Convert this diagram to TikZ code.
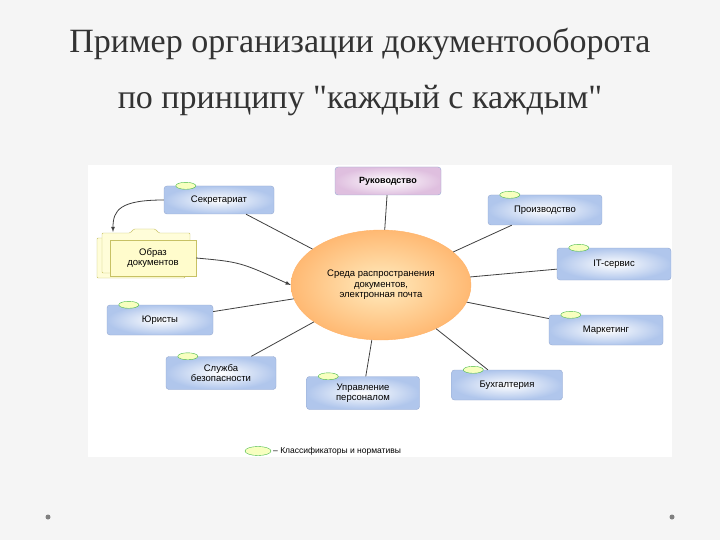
\documentclass[tikz,border=0pt]{standalone}
\usepackage{fontspec}
\setmainfont{Liberation Serif}[Ligatures=TeXOff]
\setsansfont{Liberation Sans}
\usetikzlibrary{shapes.geometric,calc}
\definecolor{bx}{RGB}{176,198,236}
\definecolor{bxd}{RGB}{150,170,210}
\begin{document}
\begin{tikzpicture}[x=1pt,y=-1pt,
 box/.style={draw=bxd,rounded corners=3pt,inner color=white,outer color=bx,minimum width=108pt,minimum height=29pt,align=center,font=\sffamily\fontsize{9.5}{10.5}\selectfont},
 tab/.style={draw=green!45!gray,fill=green!12!yellow!25,ellipse,minimum width=20pt,minimum height=7pt,inner sep=0pt},
 ln/.style={draw=black!75,line width=0.8pt}]
\useasboundingbox (0,0) rectangle (720,540);
\fill[gray!8] (0,0) rectangle (720,540);
\fill[white] (88,165) rectangle (672,457);
\node[font=\fontsize{34}{36}\selectfont,text=black!80] (t1) at (360,44) {Пример организации документооборота};
\node[font=\fontsize{34}{36}\selectfont,text=black!80] (t2) at (360,101) {по принципу "каждый с каждым"};
\node[ellipse,draw=orange!60,inner color=yellow!40!orange!25,outer color=orange!55,minimum width=180pt,minimum height=110pt,align=center,font=\sffamily\fontsize{9.5}{10.5}\selectfont] (c) at (381,285) {Среда распространения\\документов,\\электронная почта};
\node[box,outer color=violet!25,minimum width=106pt,minimum height=28pt,font=\sffamily\bfseries\fontsize{9}{10}\selectfont] (r) at (388,181) {Руководство};
\foreach \n/\x/\y/\w/\h/\t in {s/219/200/110/28/Секретариат, p/545/210/114/30/Производство, it/614/264/114/32/IT-сервис, m/606/330/114/30/Маркетинг, b/507/385/111/30/Бухгалтерия, u/363/393/113/33/{Управление\\персоналом}, sb/221/373/110/33/{Служба\\безопасности}, j/160/320/106/30/Юристы}
 {\node[box,minimum width=\w pt,minimum height=\h pt] (\n) at (\x,\y) {\t};
  \node[tab] at ($(\n.north west)+(22,0)$) {};}
% folder
\foreach \d in {0,5}
 \draw[draw=yellow!50!gray,fill=yellow!15,rounded corners=1pt] (97+\d,278-\d) -- (97+\d,238-\d) -- (125+\d,238-\d) -- (129+\d,234-\d) -- (150+\d,234-\d) -- (154+\d,238-\d) -- (185+\d,238-\d) -- (185+\d,278-\d) -- cycle;
\node[draw=yellow!50!gray,fill=yellow!20,minimum width=86pt,minimum height=36pt,align=center,font=\sffamily\fontsize{9.5}{10.5}\selectfont] (f) at (153,258) {Образ\\документов};
\foreach \n in {s,p,it,m,b,u,sb,j,r} \draw[ln] (\n) -- (c);
\draw[ln,-latex] (f.east) .. controls (240,262) .. (c.west);
\draw[ln,-latex] (s.west) .. controls (120,200) and (113,210) .. (113,232);
\node[tab,minimum width=26pt,minimum height=9pt] (lg) at (258,451) {};
\node[anchor=west,font=\sffamily\fontsize{8.5}{9}\selectfont,inner sep=1pt] (lt) at (272,451) {– Классификаторы и нормативы};
\fill[gray] (48,517) circle (2.5) (672,517) circle (2.5);
\end{tikzpicture}
\end{document}
